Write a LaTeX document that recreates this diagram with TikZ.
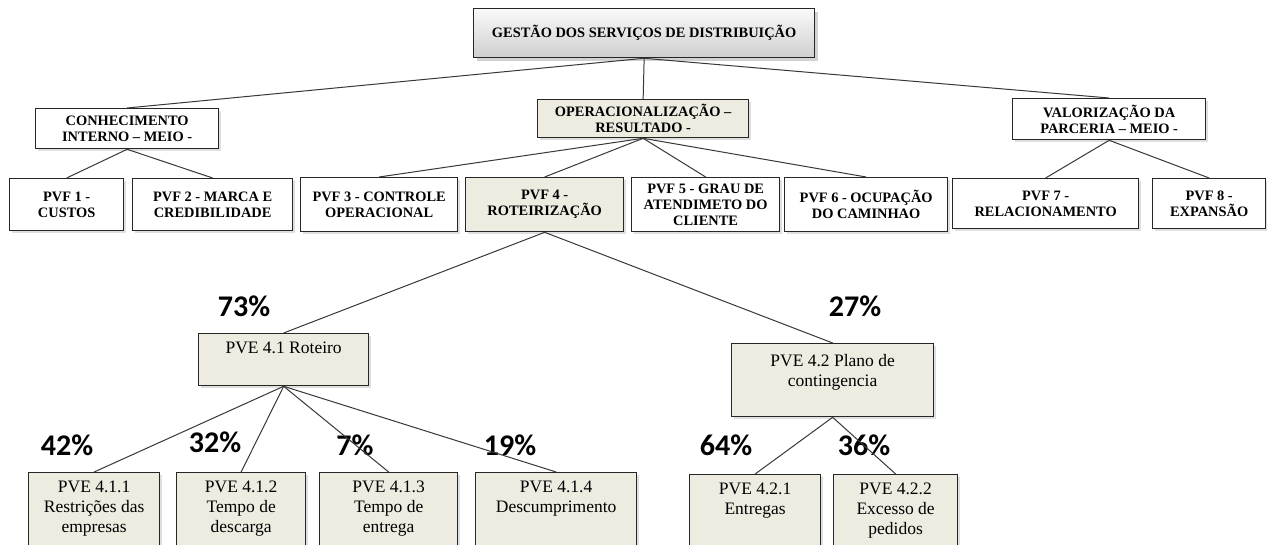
\documentclass[tikz,border=0pt]{standalone}
\usepackage{fontspec}
\setmainfont{Liberation Serif}
\newfontfamily\pctfont{Carlito}
\usetikzlibrary{positioning,shadows}
\definecolor{boxtan}{HTML}{EEECE1}
\definecolor{linkgray}{HTML}{383838}

\begin{document}
\begin{tikzpicture}[x=1pt,y=-1pt,
every node/.style={inner sep=0pt},
shade/.style={drop shadow={shadow xshift=2pt,shadow yshift=-2pt,opacity=.25}},
box/.style={draw=black!85,line width=1.3pt,anchor=north west,align=center,
font=\fontsize{14.4}{16}\selectfont\bfseries,shade},
head/.style={draw=black!85,line width=1.3pt,anchor=north west,align=center,
font=\fontsize{14.4}{16}\selectfont\bfseries,top color=gray!4,bottom color=gray!38,
drop shadow={shadow xshift=3pt,shadow yshift=-3pt,opacity=.35}},
pvf/.style={box,fill=white},
pvfsel/.style={box,fill=boxtan},
pve/.style={box,fill=boxtan},
pvetxt/.style={align=center,font=\fontsize{17.5}{20}\selectfont},
pct/.style={anchor=base,font=\pctfont\bfseries\fontsize{30}{30}\selectfont},
link/.style={draw=linkgray,line width=1pt}
]
\path[use as bounding box,fill=white] (0,0) rectangle (1267,545);
\clip (0,0) rectangle (1267,545);

% top of the tree
\node[head,minimum width=341,minimum height=49] (gestao) at (473,8)
{GESTÃO DOS SERVIÇOS DE DISTRIBUIÇÃO};

\node[pvf,minimum width=183,minimum height=40] (conhec) at (35,108)
{CONHECIMENTO \\ INTERNO – MEIO -};
\node[pvfsel,minimum width=211,minimum height=38] (oper) at (537,99)
{OPERACIONALIZAÇÃO – \\ RESULTADO -};
\node[pvf,minimum width=193,minimum height=41] (valor) at (1012,98)
{VALORIZAÇÃO DA \\ PARCERIA – MEIO -};

% PVF row
\node[pvf,minimum width=114,minimum height=52] (pvf1) at (9,178) {PVF 1 - \\ CUSTOS};
\node[pvf,minimum width=160,minimum height=52] (pvf2) at (132,178) {PVF 2 - MARCA E \\ CREDIBILIDADE};
\node[pvf,minimum width=157,minimum height=54] (pvf3) at (300,177) {PVF 3 - CONTROLE \\ OPERACIONAL};
\node[pvfsel,minimum width=158,minimum height=54] (pvf4) at (465,177) {PVF 4 - \\ ROTEIRIZAÇÃO};
\node[pvf,minimum width=148,minimum height=54] (pvf5) at (631,177) {PVF 5 - GRAU DE \\ ATENDIMETO DO \\ CLIENTE};
\node[pvf,minimum width=163,minimum height=54] (pvf6) at (784,177) {PVF 6 - OCUPAÇÃO \\ DO CAMINHAO};
\node[pvf,minimum width=186,minimum height=50] (pvf7) at (952,178) {PVF 7 - \\ RELACIONAMENTO};
\node[pvf,minimum width=113,minimum height=50] (pvf8) at (1152,178) {PVF 8 - \\ EXPANSÃO};

% PVE boxes, text set at the top
\node[pve,minimum width=170,minimum height=52] (pve41) at (198,333) {};
\node[pve,minimum width=202,minimum height=73] (pve42) at (731,343) {};
\node[pve,minimum width=131,minimum height=90] (pve411) at (28,472) {};
\node[pve,minimum width=129,minimum height=90] (pve412) at (176,472) {};
\node[pve,minimum width=138,minimum height=90] (pve413) at (319,472) {};
\node[pve,minimum width=161,minimum height=90] (pve414) at (475,472) {};
\node[pve,minimum width=131,minimum height=90] (pve421) at (689,474) {};
\node[pve,minimum width=124,minimum height=90] (pve422) at (833,474) {};

\node[pvetxt,below=9pt of pve41.north] (pve41t) {PVE 4.1 Roteiro};
\node[pvetxt,below=11pt of pve42.north] (pve42t) {PVE 4.2 Plano de \\ contingencia};
\node[pvetxt,below=9pt of pve411.north] (pve411t) {PVE 4.1.1 \\ Restrições das \\ empresas};
\node[pvetxt,below=9pt of pve412.north] (pve412t) {PVE 4.1.2 \\ Tempo de \\ descarga};
\node[pvetxt,below=9pt of pve413.north] (pve413t) {PVE 4.1.3 \\ Tempo de \\ entrega};
\node[pvetxt,below=9pt of pve414.north] (pve414t) {PVE 4.1.4 \\ Descumprimento};
\node[pvetxt,below=9pt of pve421.north] (pve421t) {PVE 4.2.1 \\ Entregas};
\node[pvetxt,below=9pt of pve422.north] (pve422t) {PVE 4.2.2 \\ Excesso de \\ pedidos};

% weights
\node[pct] (w41) at (244,317) {73\%};
\node[pct] (w42) at (855,317) {27\%};
\node[pct] (w411) at (67,455) {42\%};
\node[pct] (w412) at (215,452) {32\%};
\node[pct] (w413) at (355,455) {7\%};
\node[pct] (w414) at (510,455) {19\%};
\node[pct] (w421) at (726,455) {64\%};
\node[pct] (w422) at (864,455) {36\%};

\foreach \a/\b in {gestao/conhec,gestao/oper,gestao/valor,
conhec/pvf1,conhec/pvf2,oper/pvf3,oper/pvf4,oper/pvf5,oper/pvf6,
valor/pvf7,valor/pvf8,pvf4/pve41,pvf4/pve42,
pve41/pve411,pve41/pve412,pve41/pve413,pve41/pve414,
pve42/pve421,pve42/pve422}
\draw[link] (\a.south) -- (\b.north);
\end{tikzpicture}
\end{document}
